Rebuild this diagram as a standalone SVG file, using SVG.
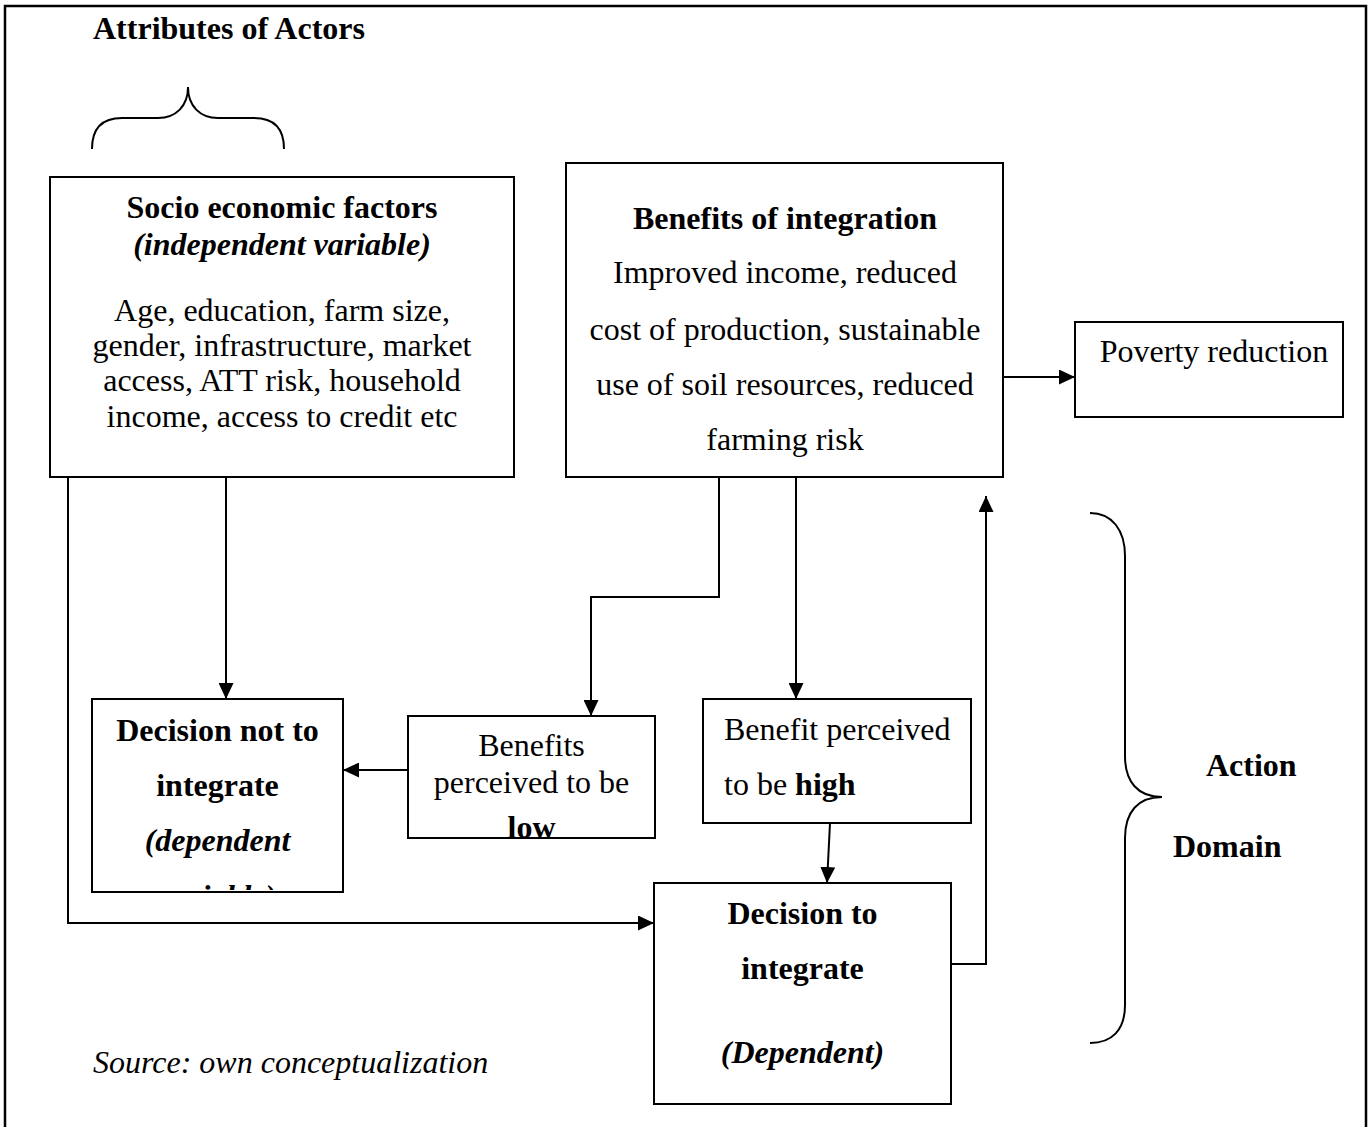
<svg xmlns="http://www.w3.org/2000/svg" width="1368" height="1127" viewBox="0 0 1368 1127">
  <style>
    text { font-family: "Liberation Serif", "Times New Roman", serif; font-size: 32px; fill: #000; }
    .b { font-weight: bold; }
    .i { font-style: italic; }
    .c { text-anchor: middle; }
    .box { fill: #fff; stroke: #000; stroke-width: 2; }
    .wire { fill: none; stroke: #000; stroke-width: 2; }
    .frame { fill: none; stroke: #000; stroke-width: 2.5; }
  </style>
  <defs>
    <marker id="arrow" markerUnits="userSpaceOnUse" viewBox="0 0 16 15" markerWidth="16" markerHeight="15" refX="16" refY="7.5" orient="auto">
      <path d="M0,0 L16,7.5 L0,15 z" fill="#000"/>
    </marker>
    <clipPath id="clipNot"><rect x="93" y="700" width="249" height="190"/></clipPath>
    <clipPath id="clipLow"><rect x="409" y="717" width="245" height="120"/></clipPath>
  </defs>

  <rect width="1368" height="1127" fill="#fff"/>
  <!-- page frame -->
  <path class="frame" d="M5,1130 V6 H1366 V1130"/>

  <!-- heading and brace over the actor attributes -->
  <g id="attributes">
    <text class="b" x="93" y="39">Attributes of Actors</text>
    <path class="wire" d="M92,149 C92,130 100,118 122,118 H158 C176,118 188,106 188,87 C188,106 200,118 218,118 H254 C276,118 284,130 284,149"/>
  </g>

  <!-- connectors -->
  <g id="connectors">
    <path class="wire" d="M226,477 V699" marker-end="url(#arrow)"/>
    <path class="wire" d="M68,477 V923 H654" marker-end="url(#arrow)"/>
    <path class="wire" d="M719,477 V597 H591 V716" marker-end="url(#arrow)"/>
    <path class="wire" d="M796,477 V699" marker-end="url(#arrow)"/>
    <path class="wire" d="M408,770 H343" marker-end="url(#arrow)"/>
    <path class="wire" d="M830,823 L827,883" marker-end="url(#arrow)"/>
    <path class="wire" d="M951,964 H986 V496" marker-end="url(#arrow)"/>
    <path class="wire" d="M1003,377 H1075" marker-end="url(#arrow)"/>
  </g>

  <g id="socio">
    <rect class="box" x="50" y="177" width="464" height="300"/>
    <text class="b c" x="282" y="218">Socio economic factors</text>
    <text class="b i c" x="282" y="255">(independent variable)</text>
    <text class="c" x="282" y="321">Age, education, farm size,</text>
    <text class="c" x="282" y="356">gender, infrastructure, market</text>
    <text class="c" x="282" y="391">access, ATT risk, household</text>
    <text class="c" x="282" y="427">income, access to credit etc</text>
  </g>

  <g id="benefits">
    <rect class="box" x="566" y="163" width="437" height="314"/>
    <text class="b c" x="785" y="229">Benefits of integration</text>
    <text class="c" x="785" y="283">Improved income, reduced</text>
    <text class="c" x="785" y="340">cost of production, sustainable</text>
    <text class="c" x="785" y="395">use of soil resources, reduced</text>
    <text class="c" x="785" y="450">farming risk</text>
  </g>

  <g id="poverty">
    <rect class="box" x="1075" y="322" width="268" height="95"/>
    <text class="c" x="1214" y="362">Poverty reduction</text>
  </g>

  <g id="decision-not">
    <rect class="box" x="92" y="699" width="251" height="193"/>
    <g clip-path="url(#clipNot)">
      <text class="b c" x="217.5" y="741">Decision not to</text>
      <text class="b c" x="217.5" y="796">integrate</text>
      <text class="b i c" x="217.5" y="851">(dependent</text>
      <text class="b i c" x="217.5" y="907">variable)</text>
    </g>
  </g>

  <g id="benefit-low">
    <rect class="box" x="408" y="716" width="247" height="122"/>
    <g clip-path="url(#clipLow)">
      <text class="c" x="531.5" y="756">Benefits</text>
      <text class="c" x="531.5" y="793">perceived to be</text>
      <text class="b c" x="531.5" y="838">low</text>
    </g>
  </g>

  <g id="benefit-high">
    <rect class="box" x="703" y="699" width="268" height="124"/>
    <text x="724" y="740">Benefit perceived</text>
    <text x="724" y="795">to be <tspan class="b">high</tspan></text>
  </g>

  <g id="decision">
    <rect class="box" x="654" y="883" width="297" height="221"/>
    <text class="b c" x="802.5" y="924">Decision to</text>
    <text class="b c" x="802.5" y="979">integrate</text>
    <text class="b i c" x="802.5" y="1063">(Dependent)</text>
  </g>

  <!-- brace marking the action domain -->
  <g id="action-domain">
    <path class="wire" d="M1090,513 C1112,513 1125,530 1125,556 V756 C1125,782 1138,797 1162,797 C1138,797 1125,812 1125,838 V1005 C1125,1030 1112,1043 1090,1043"/>
    <text class="b" x="1206" y="776">Action</text>
    <text class="b" x="1173" y="857">Domain</text>
  </g>

  <text class="i" x="93" y="1073">Source: own conceptualization</text>
</svg>
